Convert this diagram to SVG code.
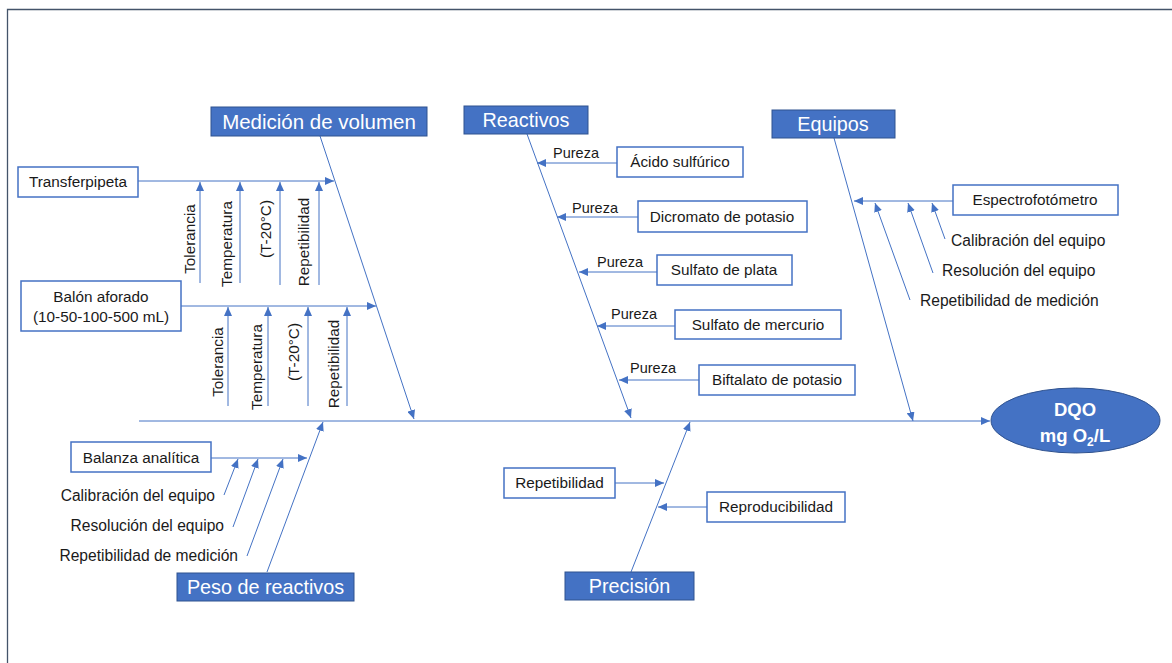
<svg xmlns="http://www.w3.org/2000/svg" width="1172" height="663" viewBox="0 0 1172 663">
<style>
text{font-family:"Liberation Sans",Arial,sans-serif;fill:#1a1a1a}
.box{fill:#fff;stroke:#4472C4;stroke-width:1.5}
.hdr{fill:#4472C4;stroke:#2F528F;stroke-width:1}
.ht{fill:#fff;font-size:19.8px;text-anchor:middle}
.bt{font-size:15.3px;text-anchor:middle}
.lt{font-size:15.6px}
.pt{font-size:14.5px;text-anchor:middle}
.rt{font-size:15.3px;text-anchor:middle}
.ln{stroke:#4472C4;stroke-width:1;fill:none;marker-end:url(#ah)}
</style>
<defs>
<marker id="ah" markerUnits="userSpaceOnUse" markerWidth="9" markerHeight="8" refX="9" refY="4" orient="auto">
<path d="M0,0 L9,4 L0,8 z" fill="#4472C4"/>
</marker>
</defs>
<rect width="1172" height="663" fill="#fff"/>
<path d="M7.5,663 V9.5 H1172" fill="none" stroke="#44546A" stroke-width="1.3"/>

<g id="connectors">
<line class="ln" x1="139" y1="421" x2="990" y2="421"/>
<line class="ln" x1="320" y1="136" x2="414" y2="419"/>
<line class="ln" x1="527" y1="134" x2="631" y2="418"/>
<line class="ln" x1="834" y1="138" x2="913" y2="421"/>
<line class="ln" x1="267" y1="572" x2="323" y2="422"/>
<line class="ln" x1="631" y1="572" x2="690" y2="422"/>
<line class="ln" x1="138" y1="181" x2="334" y2="181"/>
<line class="ln" x1="200" y1="283" x2="200" y2="182"/>
<line class="ln" x1="240" y1="283" x2="240" y2="182"/>
<line class="ln" x1="280" y1="285" x2="280" y2="182"/>
<line class="ln" x1="319" y1="285" x2="319" y2="182"/>
<line class="ln" x1="181" y1="306" x2="376" y2="306"/>
<line class="ln" x1="228" y1="406" x2="228" y2="307"/>
<line class="ln" x1="268" y1="406" x2="268" y2="307"/>
<line class="ln" x1="308" y1="406" x2="308" y2="307"/>
<line class="ln" x1="347" y1="406" x2="347" y2="307"/>
<line class="ln" x1="617" y1="163" x2="537" y2="163"/>
<line class="ln" x1="638" y1="217" x2="557" y2="217"/>
<line class="ln" x1="657" y1="272" x2="579" y2="272"/>
<line class="ln" x1="675" y1="326" x2="597" y2="326"/>
<line class="ln" x1="699" y1="380" x2="619" y2="380"/>
<line class="ln" x1="953" y1="201" x2="854" y2="201"/>
<line class="ln" x1="945" y1="239" x2="932" y2="203"/>
<line class="ln" x1="933" y1="273" x2="908" y2="203"/>
<line class="ln" x1="910" y1="300" x2="875" y2="203"/>
<line class="ln" x1="211" y1="458" x2="307" y2="458"/>
<line class="ln" x1="224" y1="495" x2="238" y2="459"/>
<line class="ln" x1="233" y1="527" x2="258" y2="459"/>
<line class="ln" x1="247" y1="556" x2="283" y2="459"/>
<line class="ln" x1="615" y1="483" x2="664" y2="483"/>
<line class="ln" x1="707" y1="507" x2="658" y2="507"/>
</g>

<g id="medicion">
<rect class="hdr" x="211" y="107" width="216" height="29"/>
<text class="ht" x="319" y="128.5" style="font-size:20.5px">Medición de volumen</text>
</g>
<g id="transferpipeta">
<rect class="box" x="18" y="167" width="120" height="30"/>
<text class="bt" x="78" y="187">Transferpipeta</text>
</g>
<g id="transfer-causes">
<text class="rt" transform="translate(190,239) rotate(-90)" dy="0.35em">Tolerancia</text>
<text class="rt" transform="translate(227,244) rotate(-90)" dy="0.35em">Temperatura</text>
<text class="rt" transform="translate(266,229) rotate(-90)" dy="0.35em">(T-20°C)</text>
<text class="rt" transform="translate(304,242) rotate(-90)" dy="0.35em">Repetibilidad</text>
</g>
<g id="balon">
<rect class="box" x="21" y="281" width="160" height="50"/>
<text class="bt" x="101" y="302">Balón aforado</text>
<text class="bt" x="101" y="322">(10-50-100-500 mL)</text>
</g>
<g id="balon-causes">
<text class="rt" transform="translate(218,362) rotate(-90)" dy="0.35em">Tolerancia</text>
<text class="rt" transform="translate(257,367) rotate(-90)" dy="0.35em">Temperatura</text>
<text class="rt" transform="translate(294,352) rotate(-90)" dy="0.35em">(T-20°C)</text>
<text class="rt" transform="translate(334,364) rotate(-90)" dy="0.35em">Repetibilidad</text>
</g>

<g id="reactivos">
<rect class="hdr" x="464" y="106" width="124" height="28"/>
<text class="ht" x="526" y="127">Reactivos</text>
</g>
<g id="acido">
<rect class="box" x="617" y="147" width="126" height="30"/>
<text class="bt" x="680" y="167">Ácido sulfúrico</text>
<text class="pt" x="576" y="158">Pureza</text>
</g>
<g id="dicromato">
<rect class="box" x="638" y="201" width="169" height="31"/>
<text class="bt" x="722" y="222">Dicromato de potasio</text>
<text class="pt" x="595" y="213">Pureza</text>
</g>
<g id="sulfato-plata">
<rect class="box" x="657" y="255" width="135" height="30"/>
<text class="bt" x="724" y="275">Sulfato de plata</text>
<text class="pt" x="620" y="267">Pureza</text>
</g>
<g id="sulfato-mercurio">
<rect class="box" x="675" y="310" width="166" height="29"/>
<text class="bt" x="758" y="330">Sulfato de mercurio</text>
<text class="pt" x="634" y="319">Pureza</text>
</g>
<g id="biftalato">
<rect class="box" x="699" y="365" width="156" height="30"/>
<text class="bt" x="777" y="385">Biftalato de potasio</text>
<text class="pt" x="653" y="373">Pureza</text>
</g>

<g id="equipos">
<rect class="hdr" x="772" y="110" width="123" height="28"/>
<text class="ht" x="833" y="131">Equipos</text>
</g>
<g id="espectro">
<rect class="box" x="953" y="185" width="165" height="30"/>
<text class="bt" x="1035" y="205">Espectrofotómetro</text>
</g>
<g id="espectro-causes">
<text class="lt" x="951" y="246">Calibración del equipo</text>
<text class="lt" x="942" y="276">Resolución del equipo</text>
<text class="lt" x="920" y="306">Repetibilidad de medición</text>
</g>

<g id="dqo">
<ellipse cx="1075.5" cy="420.5" rx="84.5" ry="32.5" fill="#4472C4" stroke="#2F528F" stroke-width="1"/>
<text x="1075" y="415.5" font-size="18.5px" font-weight="bold" text-anchor="middle" style="fill:#fff">DQO</text>
<text x="1075" y="442" font-size="18.5px" font-weight="bold" text-anchor="middle" style="fill:#fff">mg O<tspan font-size="12px" dy="4">2</tspan><tspan dy="-4">/L</tspan></text>
</g>

<g id="balanza">
<rect class="box" x="71" y="442" width="140" height="30"/>
<text class="bt" x="141" y="463">Balanza analítica</text>
</g>
<g id="balanza-causes">
<text class="lt" x="215" y="501" text-anchor="end">Calibración del equipo</text>
<text class="lt" x="224" y="531" text-anchor="end">Resolución del equipo</text>
<text class="lt" x="238" y="561" text-anchor="end">Repetibilidad de medición</text>
</g>
<g id="peso">
<rect class="hdr" x="177" y="573" width="177" height="28"/>
<text class="ht" x="265.5" y="594">Peso de reactivos</text>
</g>

<g id="repetibilidad">
<rect class="box" x="504" y="468" width="111" height="30"/>
<text class="bt" x="559.5" y="488">Repetibilidad</text>
</g>
<g id="reproducibilidad">
<rect class="box" x="707" y="492" width="138" height="30"/>
<text class="bt" x="776" y="512">Reproducibilidad</text>
</g>
<g id="precision">
<rect class="hdr" x="565" y="572" width="129" height="28"/>
<text class="ht" x="629.5" y="593">Precisión</text>
</g>
</svg>
